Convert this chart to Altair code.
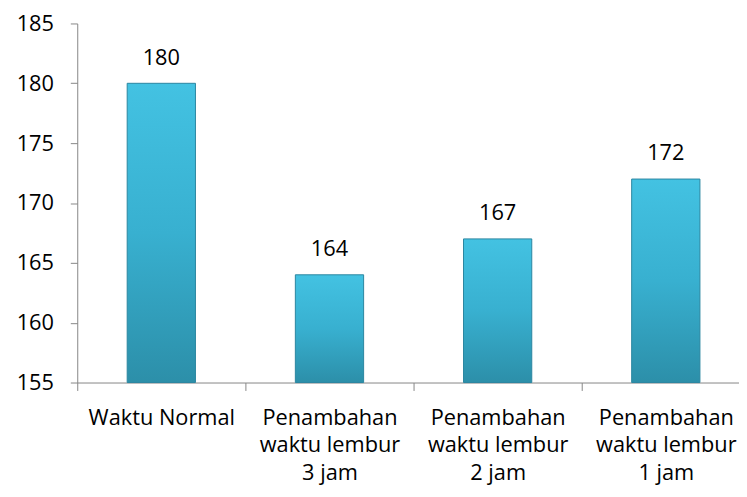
import altair as alt
import pandas as pd

categories = [
    "Waktu Normal",
    "Penambahan\nwaktu lembur\n3 jam",
    "Penambahan\nwaktu lembur\n2 jam",
    "Penambahan\nwaktu lembur\n1 jam",
]
values = [180, 164, 167, 172]
y_ticks = [155, 160, 165, 170, 175, 180, 185]

df = pd.DataFrame({"kategori": categories, "nilai": values})

FONT = "Open Sans"
AXIS_GRAY = "#868686"

x_enc = alt.X(
    "kategori:N",
    sort=None,
    title=None,
    scale=alt.Scale(range=[0, 680], paddingInner=0, paddingOuter=0),
    axis=alt.Axis(
        labelAngle=0,
        labelExpr="split(datum.label, '\\n')",
        labelFont=FONT,
        labelFontSize=22,
        labelColor="#000000",
        labelLineHeight=28,
        labelPadding=17,
        labelBaseline="top",
        tickBand="extent",
        tickSize=8,
        tickColor=AXIS_GRAY,
        domainColor=AXIS_GRAY,
        labelLimit=300,
    ),
)

y_enc = alt.Y(
    "nilai:Q",
    title=None,
    scale=alt.Scale(domain=[155, 185], zero=False, nice=False, clamp=True),
    axis=alt.Axis(
        values=y_ticks,
        grid=False,
        labelFont=FONT,
        labelFontSize=22,
        labelColor="#000000",
        labelPadding=17,
        tickSize=7,
        tickColor=AXIS_GRAY,
        domainColor=AXIS_GRAY,
    ),
)

bars = alt.Chart(df).mark_bar(
    width=alt.RelativeBandSize(0.406),
    color=alt.Gradient(
        gradient="linear",
        x1=0, x2=0, y1=0, y2=1,
        stops=[
            alt.GradientStop(color="#43c2e2", offset=0),
            alt.GradientStop(color="#38b0d0", offset=0.5),
            alt.GradientStop(color="#2c8fa9", offset=1),
        ],
    ),
    stroke="#2a86a0",
    strokeWidth=1,
).encode(x=x_enc, y=y_enc)

labels = alt.Chart(df).mark_text(
    font=FONT,
    fontSize=22,
    color="#000000",
    baseline="alphabetic",
    align="center",
    dy=-19,
).encode(
    x=alt.X("kategori:N", sort=None),
    y=alt.Y("nilai:Q"),
    text=alt.Text("nilai:Q"),
)

chart = (
    alt.layer(bars, labels)
    .properties(
        width=669,
        height=363,
        autosize=alt.AutoSizeParams(type="none"),
        padding={"left": 70, "top": 13, "right": 0, "bottom": 105},
    )
    .configure_view(stroke=None)
)

chart.save("out.html", embed_options={"renderer": "svg", "actions": False})
